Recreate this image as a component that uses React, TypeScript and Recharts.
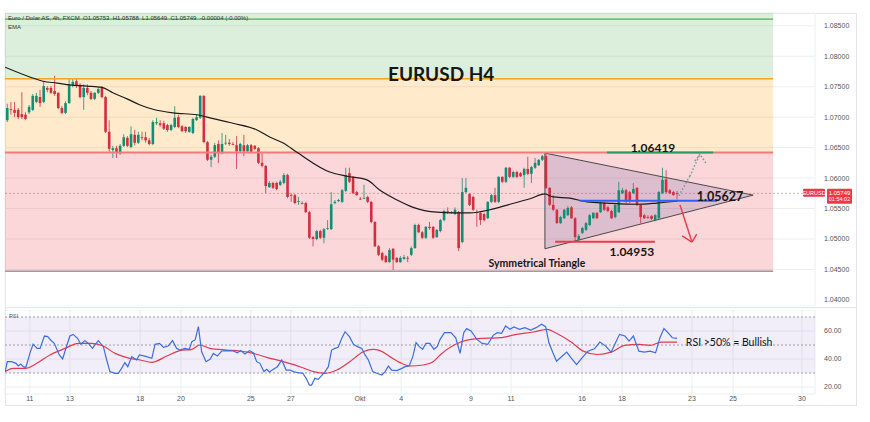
// EURUSD H4 — candlesticks with EMA, drawn zones, symmetrical triangle and RSI pane
import {
  ComposedChart,
  Bar,
  Line,
  XAxis,
  YAxis,
  CartesianGrid,
  ReferenceArea,
  ReferenceLine,
  ReferenceDot,
} from "recharts";

// ---- x axis: bar index, date labels ----
const X_MIN = -0.63;
const X_MAX = 221.9;
const ZONE_END = 210.4;
const dateTicks = [6.2, 17.2, 36.5, 47.7, 66.9, 77.9, 96.9, 108.2, 127.4, 138.4, 157.9, 168.9, 188.1, 199.4, 218.3];
const dateLabels = ["11", "13", "18", "20", "25", "27", "Okt", "4", "9", "11", "16", "18", "23", "25", "30"];

// ---- price axis ----
const P_MIN = 1.039;
const P_MAX = 1.0871;
const priceTicks = [1.04, 1.045, 1.05, 1.055, 1.06, 1.065, 1.07, 1.075, 1.08, 1.085];

// ---- 4h candles [open, high, low, close] ----
const candles: number[][] = [
  [1.0695, 1.0722, 1.0692, 1.0715], [1.0713, 1.0725, 1.0704, 1.0712], [1.0712, 1.0725, 1.07, 1.0707],
  [1.0712, 1.0715, 1.0697, 1.07], [1.0705, 1.0741, 1.0697, 1.07], [1.0704, 1.0708, 1.0695, 1.0697],
  [1.0708, 1.072, 1.0705, 1.0717], [1.0712, 1.0738, 1.071, 1.0735], [1.0725, 1.074, 1.0723, 1.0735],
  [1.0733, 1.0745, 1.0717, 1.0723], [1.0725, 1.0758, 1.0723, 1.0751], [1.0748, 1.0751, 1.0741, 1.0745],
  [1.0748, 1.0751, 1.0738, 1.074], [1.0743, 1.0768, 1.0735, 1.0738], [1.074, 1.0741, 1.0713, 1.0715],
  [1.0715, 1.0718, 1.0705, 1.0707], [1.0707, 1.0726, 1.0705, 1.0723], [1.0723, 1.0763, 1.0722, 1.0753],
  [1.0753, 1.0763, 1.0749, 1.0758], [1.0759, 1.0763, 1.0748, 1.0751], [1.0753, 1.0756, 1.0731, 1.0733],
  [1.0733, 1.0754, 1.0712, 1.0748], [1.0748, 1.0754, 1.0736, 1.074], [1.074, 1.0743, 1.0728, 1.073],
  [1.073, 1.0741, 1.0728, 1.074], [1.074, 1.0749, 1.0738, 1.0746], [1.0748, 1.0751, 1.0731, 1.0733],
  [1.0733, 1.0735, 1.0674, 1.0676], [1.0676, 1.0695, 1.0643, 1.0648], [1.0646, 1.0653, 1.0633, 1.0649],
  [1.0649, 1.0653, 1.0633, 1.0643], [1.0641, 1.0656, 1.0638, 1.0653], [1.0653, 1.0672, 1.0651, 1.0667],
  [1.0666, 1.0669, 1.0651, 1.0653], [1.0651, 1.0685, 1.0649, 1.0672], [1.0671, 1.0679, 1.0654, 1.0658],
  [1.0658, 1.0676, 1.0656, 1.0671], [1.0667, 1.0676, 1.0662, 1.0666], [1.0667, 1.0676, 1.0658, 1.0662],
  [1.0662, 1.0666, 1.0654, 1.0656], [1.0656, 1.0695, 1.0654, 1.0692], [1.069, 1.0699, 1.0687, 1.0692],
  [1.069, 1.0695, 1.0684, 1.0687], [1.069, 1.0694, 1.0679, 1.0681], [1.0687, 1.0689, 1.0676, 1.0679],
  [1.0679, 1.0689, 1.0677, 1.0687], [1.0684, 1.0718, 1.0682, 1.0699], [1.07, 1.0704, 1.0682, 1.0684],
  [1.0685, 1.0687, 1.0676, 1.0677], [1.0684, 1.0685, 1.0674, 1.0677], [1.0676, 1.0685, 1.0674, 1.0684],
  [1.0674, 1.0699, 1.0672, 1.0697], [1.0695, 1.0705, 1.0694, 1.07], [1.0699, 1.0736, 1.0697, 1.0735],
  [1.0735, 1.0736, 1.0658, 1.0659], [1.0659, 1.0661, 1.0628, 1.063], [1.063, 1.0638, 1.0618, 1.0635],
  [1.0635, 1.0658, 1.0633, 1.0654], [1.0656, 1.0662, 1.0625, 1.0641], [1.0641, 1.0674, 1.0639, 1.0656],
  [1.0657, 1.0671, 1.0654, 1.0658], [1.0658, 1.0664, 1.0653, 1.0656], [1.0656, 1.0659, 1.0654, 1.0655],
  [1.0654, 1.0669, 1.0615, 1.0644], [1.0644, 1.0658, 1.0643, 1.0656], [1.0654, 1.0671, 1.0636, 1.0644],
  [1.0644, 1.0656, 1.0643, 1.0654], [1.0654, 1.0656, 1.0641, 1.0643], [1.0653, 1.0654, 1.0646, 1.0648],
  [1.0649, 1.0651, 1.0623, 1.0625], [1.0625, 1.0643, 1.0618, 1.062], [1.062, 1.0621, 1.0575, 1.0587],
  [1.0585, 1.0595, 1.0584, 1.0592], [1.0592, 1.0594, 1.0582, 1.0584], [1.0592, 1.0594, 1.058, 1.0582],
  [1.0589, 1.0597, 1.0587, 1.0594], [1.0592, 1.0608, 1.059, 1.0605], [1.0605, 1.0607, 1.0567, 1.0569],
  [1.0572, 1.0575, 1.0561, 1.0571], [1.0572, 1.0574, 1.0557, 1.0559], [1.0561, 1.0569, 1.0556, 1.0562],
  [1.0559, 1.0562, 1.0557, 1.0558], [1.0559, 1.0561, 1.0543, 1.0544], [1.0544, 1.0546, 1.05, 1.0502],
  [1.0503, 1.0505, 1.0488, 1.05], [1.05, 1.0515, 1.0498, 1.0513], [1.0513, 1.0515, 1.05, 1.0502],
  [1.0502, 1.0518, 1.0493, 1.0516], [1.0517, 1.0531, 1.0515, 1.0518], [1.0516, 1.0577, 1.0515, 1.0557],
  [1.0559, 1.0564, 1.0557, 1.0561], [1.0562, 1.0566, 1.0561, 1.0564], [1.0561, 1.0582, 1.0559, 1.058],
  [1.0579, 1.0617, 1.0577, 1.0605], [1.0608, 1.0617, 1.0592, 1.0594], [1.0602, 1.0603, 1.0574, 1.0575],
  [1.0577, 1.0579, 1.0571, 1.0572], [1.0566, 1.0569, 1.0564, 1.0565], [1.0566, 1.0589, 1.0566, 1.0567],
  [1.0569, 1.0571, 1.0559, 1.0561], [1.0561, 1.0562, 1.0526, 1.0528], [1.0528, 1.0529, 1.0487, 1.0488],
  [1.0488, 1.049, 1.0472, 1.0474], [1.0477, 1.0479, 1.0464, 1.0466], [1.0472, 1.0474, 1.0461, 1.0462],
  [1.0462, 1.0485, 1.0461, 1.0482], [1.0484, 1.0485, 1.0449, 1.0466], [1.0469, 1.047, 1.0461, 1.0462],
  [1.0462, 1.0472, 1.0461, 1.0469], [1.0467, 1.0474, 1.0466, 1.047], [1.0469, 1.0472, 1.0462, 1.0468],
  [1.0474, 1.0488, 1.0472, 1.0485], [1.0485, 1.0525, 1.0484, 1.0523], [1.0523, 1.0525, 1.051, 1.0511],
  [1.0511, 1.0513, 1.05, 1.0502], [1.0502, 1.0521, 1.05, 1.052], [1.052, 1.0528, 1.0515, 1.0518],
  [1.052, 1.0521, 1.05, 1.0502], [1.0503, 1.0516, 1.0502, 1.0515], [1.0513, 1.0533, 1.0511, 1.0531],
  [1.0531, 1.0548, 1.0529, 1.0546], [1.0546, 1.0552, 1.0541, 1.0545], [1.0543, 1.0546, 1.0541, 1.0544],
  [1.0541, 1.0552, 1.0539, 1.0548], [1.0544, 1.0546, 1.048, 1.0485], [1.0495, 1.06, 1.0493, 1.0577],
  [1.0577, 1.06, 1.0575, 1.0584], [1.0574, 1.0575, 1.0554, 1.0556], [1.0569, 1.0571, 1.0546, 1.0548],
  [1.0544, 1.0548, 1.052, 1.0543], [1.0543, 1.0544, 1.0523, 1.0531], [1.0541, 1.0543, 1.0529, 1.0531],
  [1.0534, 1.0562, 1.0533, 1.0561], [1.0561, 1.0574, 1.0559, 1.0572], [1.0572, 1.0584, 1.0559, 1.0561],
  [1.0561, 1.0603, 1.0559, 1.0602], [1.0602, 1.0603, 1.0592, 1.0594], [1.0594, 1.0618, 1.0592, 1.0617],
  [1.0617, 1.0618, 1.06, 1.0602], [1.0602, 1.0612, 1.06, 1.061], [1.061, 1.0612, 1.06, 1.0602],
  [1.0608, 1.061, 1.0602, 1.0603], [1.0605, 1.0617, 1.0584, 1.0615], [1.0615, 1.0635, 1.0605, 1.0607],
  [1.0607, 1.062, 1.0592, 1.0618], [1.0617, 1.0633, 1.0615, 1.0625], [1.0621, 1.0631, 1.062, 1.063],
  [1.063, 1.0638, 1.0628, 1.0636], [1.0636, 1.0641, 1.0582, 1.0584], [1.0584, 1.0585, 1.0554, 1.0556],
  [1.0556, 1.0572, 1.0546, 1.0548], [1.0548, 1.0549, 1.0525, 1.0526], [1.0526, 1.0538, 1.0525, 1.0536],
  [1.0534, 1.0549, 1.0533, 1.0548], [1.0539, 1.0554, 1.0538, 1.0551], [1.0552, 1.0554, 1.0533, 1.0534],
  [1.0534, 1.0536, 1.0495, 1.0503], [1.0498, 1.0508, 1.0497, 1.0505], [1.051, 1.052, 1.0508, 1.0518],
  [1.0515, 1.0528, 1.0513, 1.0526], [1.0523, 1.0541, 1.0521, 1.0539], [1.0534, 1.0544, 1.0533, 1.0543],
  [1.0543, 1.0544, 1.0533, 1.0534], [1.0544, 1.0561, 1.0543, 1.0559], [1.0559, 1.0561, 1.0546, 1.0548],
  [1.0552, 1.0554, 1.0544, 1.0546], [1.0546, 1.0548, 1.0533, 1.0534], [1.0536, 1.0557, 1.0534, 1.0556],
  [1.0544, 1.0594, 1.0543, 1.058], [1.0575, 1.0584, 1.0574, 1.058], [1.058, 1.0582, 1.0559, 1.0561],
  [1.0577, 1.0579, 1.0559, 1.0564], [1.0575, 1.0592, 1.0574, 1.0582], [1.0584, 1.0585, 1.0554, 1.0556],
  [1.0556, 1.0557, 1.0526, 1.0536], [1.0539, 1.0541, 1.0533, 1.0534], [1.0536, 1.0539, 1.0533, 1.0535],
  [1.0538, 1.0539, 1.0531, 1.0533], [1.0531, 1.0541, 1.0529, 1.0539], [1.0534, 1.0579, 1.0533, 1.0577],
  [1.0575, 1.0617, 1.0574, 1.0597], [1.0598, 1.0613, 1.0575, 1.0577], [1.058, 1.0582, 1.0574, 1.0575],
  [1.0577, 1.0579, 1.0571, 1.0572], [1.05753, 1.05788, 1.05649, 1.05749],
];

// ---- EMA [bar index, value] ----
const emaPoints: number[][] = [
  [-0.6, 1.0782], [6.2, 1.0766], [9.8, 1.0759], [13.7, 1.0756], [17.2, 1.0753], [21.9, 1.0751],
  [26.0, 1.0749], [29.0, 1.074], [32.9, 1.073], [36.5, 1.072], [40.0, 1.0713], [45.5, 1.0707],
  [52.1, 1.0704], [54.9, 1.07], [62.0, 1.069], [68.6, 1.0679], [72.2, 1.0667], [75.7, 1.0658],
  [79.9, 1.0641], [88.6, 1.061], [93.3, 1.0603], [98.8, 1.0597], [102.4, 1.058], [107.1, 1.0564],
  [111.5, 1.0552], [118.0, 1.0544], [122.4, 1.0543], [127.1, 1.0543], [132.6, 1.0548], [138.1, 1.0557],
  [143.6, 1.0566], [147.7, 1.0574], [149.9, 1.0569], [154.6, 1.0567], [159.3, 1.0561], [164.8, 1.0559],
  [173.0, 1.0557], [178.5, 1.0559], [184.0, 1.0562],
];

// ---- RSI [bar index, value] ----
const rsiPoints: number[][] = [
  [-0.6, 31], [0, 38.1], [1.2, 38.1], [2.4, 36.9], [3.0, 35], [3.7, 36.4], [4.4, 34.5], [5.1, 34],
  [6.2, 44], [7.1, 50.7], [8.2, 47.6], [9.0, 47.6], [10.2, 56.4], [11.1, 56], [11.9, 53.6], [12.9, 51.2],
  [14.3, 42.9], [15.2, 40], [16.3, 49.3], [17.2, 56.4], [18.1, 57.6], [19.3, 54.8], [20.2, 50.5],
  [21.3, 53.1], [22.3, 51.2], [23.4, 47.6], [25.0, 53.1], [26.4, 48.8], [27.3, 39.3], [28.2, 31],
  [29.6, 29.8], [30.5, 29.8], [31.4, 33.3], [32.3, 37.4], [33.1, 34.5], [34.2, 41.7], [35.5, 39.3],
  [36.3, 42.9], [37.8, 42.1], [39.7, 40.5], [40.6, 50.5], [41.8, 51.2], [42.9, 48.3], [44.2, 49.3],
  [45.4, 53.1], [46.5, 47.6], [47.4, 46.4], [48.8, 47.6], [50.0, 46.9], [50.7, 52.4], [51.6, 53.6],
  [52.5, 63.1], [53.4, 45.2], [54.6, 38.1], [55.7, 39.8], [56.6, 44], [57.7, 42.1], [58.9, 45.7],
  [60.3, 46], [62.1, 45.7], [63.2, 44.5], [64.1, 46], [65.3, 43.6], [66.5, 46], [67.6, 44.5],
  [68.5, 38.1], [69.4, 36.9], [70.5, 31], [71.3, 32.6], [72.0, 30.7], [73.1, 32.6], [74.2, 34.5],
  [75.4, 39.3], [76.6, 32.1], [77.7, 32.1], [78.6, 31], [79.9, 30.2], [81.2, 29.8], [82.1, 26.2],
  [83.0, 21.4], [83.6, 21.4], [84.5, 26.2], [85.4, 25.5], [86.1, 27.4], [87.3, 31], [88.2, 34.5],
  [89.1, 46.4], [90.0, 47.6], [90.9, 48.3], [91.9, 54.8], [92.8, 59.5], [94.0, 56], [95.1, 50.5],
  [96.2, 48.8], [97.4, 47.6], [98.3, 42.9], [99.2, 39.3], [100.4, 31], [101.5, 29.8], [102.9, 28.6],
  [103.8, 31], [104.7, 35], [105.6, 32.1], [107.0, 31.7], [108.4, 33.3], [109.3, 34.5], [110.4, 35],
  [111.4, 41.7], [112.3, 51.7], [113.2, 48.8], [114.1, 46.9], [115.0, 51.2], [116.1, 51.2],
  [117.2, 46.9], [118.1, 48.8], [118.9, 54], [120.1, 58.8], [121.9, 58.8], [123.2, 55.2], [124.4, 44],
  [125.4, 58.8], [126.2, 61.7], [127.4, 60], [129.0, 54], [130.5, 51.1], [132.0, 50.4], [133.5, 56.9],
  [134.6, 58.8], [135.8, 58.3], [136.9, 63.6], [138.1, 61.2], [139.2, 62.9], [140.7, 61.2],
  [142.2, 62.4], [143.8, 60.7], [145.3, 62.4], [146.8, 64.8], [147.9, 63.1], [148.8, 51.6],
  [149.9, 44.4], [150.9, 38.4], [152.4, 42], [153.7, 44.9], [154.9, 40.8], [156.4, 36], [157.9, 40.8],
  [159.5, 45.6], [161.3, 47.3], [162.8, 52.1], [164.4, 49.2], [165.9, 44.9], [167.1, 51.6],
  [168.2, 57.6], [169.7, 56.4], [170.8, 52.8], [172.0, 56.4], [173.5, 45.6], [175.0, 44.9],
  [176.6, 45.6], [178.1, 44.4], [179.3, 55.2], [180.4, 61.7], [181.5, 58.8], [182.7, 55.2], [184.0, 54.7],
];

// ---- RSI moving average [bar index, value] ----
const rsiMaPoints: number[][] = [
  [-0.6, 31], [1.6, 33.3], [4.9, 33.3], [8.1, 36.9], [11.7, 42.9], [15.9, 47.6], [19.5, 51.2],
  [23.2, 51.2], [26.4, 49.3], [29.6, 44], [33.7, 40.5], [36.5, 39.3], [39.7, 37.6], [43.8, 42.1],
  [47.4, 46], [50.7, 46.9], [52.9, 50], [55.7, 47.6], [60.3, 46.4], [63.9, 45.7], [67.6, 44],
  [71.3, 41.2], [75.8, 38.1], [80.4, 34.5], [84.1, 31], [87.3, 29.8], [90.5, 32.1], [94.1, 38.1],
  [97.8, 45.2], [100.5, 46.9], [102.4, 46], [105.1, 41.7], [107.9, 37.4], [110.6, 35], [114.3, 35.7],
  [117.0, 38.1], [118.9, 42.9], [124.6, 52.1], [129.3, 54.5], [135.4, 55.2], [139.9, 57.6],
  [144.5, 59.3], [148.3, 61.2], [150.6, 58.8], [155.2, 51.6], [158.2, 45.6], [162.1, 43.2],
  [165.9, 44.9], [169.7, 49.7], [173.5, 50.4], [176.6, 49.7], [179.6, 52.1], [184, 52.1],
];

// ---- drawn levels / pattern ----
const zoneGreenLow = 1.0763;
const zoneOrangeLow = 1.06419;
const zonePinkLow = 1.0447;
const topLine = 1.0861;
const triangle = { x1: 147.7, x2: 204.9, top: 1.0641, bottom: 1.0484, apex: 1.0572 };
const lastPrice = 1.05749;

const UP = "#0f8f73";
const DOWN = "#d12f3e";
const FONT = "Lato, 'Liberation Sans', sans-serif";

const candleData = candles.map(([o, h, l, c], i) => ({ i, o, h, l, c, range: [l, h] }));
const toXY = (pts: number[][]) => pts.map(([i, v]) => ({ i, v }));

function Candle(props: any) {
  const { x, y, width, height, payload } = props;
  if (payload == null || x == null) return null;
  const { o, h, l, c } = payload;
  const color = c >= o ? UP : DOWN;
  const top = Math.min(y, y + height);
  const hh = Math.abs(height);
  const span = h - l || 1e-9;
  const yOf = (p: number) => top + ((h - p) / span) * hh;
  const cx = x + width / 2;
  const bTop = yOf(Math.max(o, c));
  const bBot = yOf(Math.min(o, c));
  return (
    <g>
      <line x1={cx} x2={cx} y1={top} y2={top + hh} stroke={color} strokeWidth={0.8} />
      <rect x={cx - 1.3} y={bTop} width={2.6} height={Math.max(bBot - bTop, 0.8)} fill={color} />
    </g>
  );
}

function triShape(p: any) {
  const { x, y, width, height } = p;
  const apexY = y + (height * (triangle.top - triangle.apex)) / (triangle.top - triangle.bottom);
  return (
    <polygon
      points={`${x},${y} ${x + width},${apexY} ${x},${y + height}`}
      fill="rgba(100,90,160,0.2)"
      stroke="#4a4a4a"
      strokeWidth={1}
    />
  );
}

function note(text: string, size: number, weight = 700, color = "#151515") {
  return (p: any) => {
    const vb = p.viewBox || {};
    return (
      <text
        x={vb.x + (vb.width || 0) / 2}
        y={vb.y + (vb.height || 0) / 2}
        textAnchor="middle"
        dominantBaseline="central"
        fontSize={size}
        fontWeight={weight}
        fill={color}
        fontFamily={FONT}
      >
        {text}
      </text>
    );
  };
}

function priceTag(p: any) {
  const vb = p.viewBox || {};
  const right = vb.x + vb.width;
  const cy = vb.y;
  const f = "'Liberation Sans', sans-serif";
  return (
    <g>
      <rect x={right - 12} y={cy - 4.5} width={22} height={8} fill="#f23645" rx={1} />
      <text x={right - 1} y={cy - 0.3} textAnchor="middle" dominantBaseline="central" fontSize={5.5} fill="#fff" fontFamily={f}>
        EURUSD
      </text>
      <rect x={right + 12} y={cy - 4.5} width={25} height={15} fill="#f23645" rx={1} />
      <text x={right + 24.5} y={cy - 0.5} textAnchor="middle" dominantBaseline="central" fontSize={6} fill="#fff" fontFamily={f}>
        {lastPrice.toFixed(5)}
      </text>
      <text x={right + 24.5} y={cy + 6} textAnchor="middle" dominantBaseline="central" fontSize={5.5} fill="#fff" fontFamily={f}>
        01:54:02
      </text>
    </g>
  );
}

const seg = (x1: number, y1: number, x2: number, y2: number) => [
  { x: x1, y: y1 },
  { x: x2, y: y2 },
];

const axisTick = { fontSize: 7, fill: "#555", fontFamily: "'Liberation Sans', sans-serif" };
const dateFmt = (v: number) => dateLabels[dateTicks.indexOf(v)] ?? "";

export default function App() {
  return (
    <div style={{ position: "fixed", left: 0, top: 0, width: 870, height: 422, background: "#fff", overflow: "hidden" }}>
      {/* frame */}
      <div style={{ position: "absolute", left: 5, top: 13, width: 850, height: 391, border: "1px solid #e3e5ea" }} />
      <div style={{ position: "absolute", left: 5, top: 307, width: 851, height: 1, background: "#e3e5ea" }} />

      <div style={{ position: "absolute", left: 0, top: 0 }}>
        <ComposedChart width={870} height={306} data={candleData} margin={{ top: 13, right: 14, bottom: 0, left: 5 }}>
          <CartesianGrid stroke="#eceef2" />
          <XAxis
            dataKey="i"
            type="number"
            domain={[X_MIN, X_MAX]}
            allowDataOverflow
            ticks={dateTicks}
            tick={false}
            axisLine={false}
            tickLine={false}
            height={0}
          />
          <YAxis
            orientation="right"
            type="number"
            domain={[P_MIN, P_MAX]}
            allowDataOverflow
            ticks={priceTicks}
            tickFormatter={(v: number) => v.toFixed(5)}
            width={41}
            axisLine={false}
            tickLine={false}
            tickSize={0}
            tickMargin={9}
            tick={axisTick}
          />

          {/* zones */}
          <ReferenceArea x1={X_MIN} x2={ZONE_END} y1={zoneGreenLow} y2={P_MAX} fill="rgba(76,175,80,0.2)" fillOpacity={1} stroke="none" ifOverflow="hidden" />
          <ReferenceArea x1={X_MIN} x2={ZONE_END} y1={zoneOrangeLow} y2={zoneGreenLow} fill="rgba(255,152,0,0.2)" fillOpacity={1} stroke="none" />
          <ReferenceArea x1={X_MIN} x2={ZONE_END} y1={zonePinkLow} y2={zoneOrangeLow} fill="rgba(242,54,69,0.2)" fillOpacity={1} stroke="none" />
          <ReferenceLine segment={seg(X_MIN, topLine, ZONE_END, topLine)} stroke="#4caf50" strokeWidth={1.2} />
          <ReferenceLine segment={seg(X_MIN, zoneGreenLow, ZONE_END, zoneGreenLow)} stroke="#f5a623" strokeWidth={1.5} />
          <ReferenceLine segment={seg(X_MIN, zoneOrangeLow, ZONE_END, zoneOrangeLow)} stroke="#f27a7a" strokeWidth={2} />
          <ReferenceLine segment={seg(X_MIN, zonePinkLow, ZONE_END, zonePinkLow)} stroke="#a09aa3" strokeWidth={1.5} />

          {/* symmetrical triangle */}
          <ReferenceArea x1={triangle.x1} x2={triangle.x2} y1={triangle.bottom} y2={triangle.top} shape={triShape} />

          {/* current price */}
          <ReferenceLine y={lastPrice} stroke="rgba(242,54,69,0.45)" strokeDasharray="2 2" label={priceTag} />

          <Bar dataKey="range" shape={(p: any) => <Candle {...p} />} barSize={3} isAnimationActive={false} />
          <Line data={toXY(emaPoints)} dataKey="v" type="monotone" stroke="#1b1b1b" strokeWidth={1.2} dot={false} isAnimationActive={false} />

          {/* key levels */}
          <ReferenceLine segment={seg(164.8, 1.06419, 193.9, 1.06419)} stroke="#2e9a6a" strokeWidth={2} />
          <ReferenceLine segment={seg(157.3, 1.05627, 195.0, 1.05627)} stroke="#2962ff" strokeWidth={2} />
          <ReferenceLine segment={seg(150.5, 1.04953, 177.9, 1.04953)} stroke="#ec3b4b" strokeWidth={2} />

          {/* arrows */}
          <ReferenceLine segment={seg(184.8, 1.0556, 188.1, 1.0495)} stroke="#e8404c" strokeWidth={1.5} />
          <ReferenceLine segment={seg(185.4, 1.0505, 188.1, 1.0495)} stroke="#e8404c" strokeWidth={1.5} />
          <ReferenceLine segment={seg(189.4, 1.0508, 188.1, 1.0495)} stroke="#e8404c" strokeWidth={1.5} />
          <ReferenceLine segment={seg(184.5, 1.0571, 187.5, 1.0603)} stroke="#6a9f96" strokeWidth={1.5} strokeDasharray="1.5 2" />
          <ReferenceLine segment={seg(187.5, 1.0603, 190.3, 1.0639)} stroke="#6a9f96" strokeWidth={1.5} strokeDasharray="1.5 2" />
          <ReferenceLine segment={seg(188.9, 1.0628, 190.3, 1.0639)} stroke="#6a9f96" strokeWidth={1.5} strokeDasharray="1.5 2" />
          <ReferenceLine segment={seg(191.9, 1.0625, 190.3, 1.0639)} stroke="#6a9f96" strokeWidth={1.5} strokeDasharray="1.5 2" />

          {/* texts */}
          <ReferenceDot x={119.2} y={1.0771} r={0} fill="none" stroke="none" label={note("EURUSD H4", 19)} />
          <ReferenceDot x={177.4} y={1.0651} r={0} fill="none" stroke="none" label={note("1.06419", 12)} />
          <ReferenceDot x={195.8} y={1.0569} r={0} fill="none" stroke="none" label={note("1.05627", 12.5)} />
          <ReferenceDot x={171.6} y={1.0479} r={0} fill="none" stroke="none" label={note("1.04953", 12)} />
          <ReferenceDot x={145.5} y={1.0461} r={0} fill="none" stroke="none" label={note("Symmetrical Triangle", 10.5)} />
        </ComposedChart>
      </div>

      <div style={{ position: "absolute", left: 0, top: 310 }}>
        <ComposedChart width={870} height={96} margin={{ top: 0, right: 14, bottom: 0, left: 5 }}>
          <CartesianGrid stroke="#eceef2" />
          <XAxis
            dataKey="i"
            type="number"
            domain={[X_MIN, X_MAX]}
            allowDataOverflow
            ticks={dateTicks}
            interval={0}
            tickFormatter={dateFmt}
            height={12}
            axisLine={false}
            tickLine={false}
            tickSize={0}
            tickMargin={2}
            tick={axisTick}
          />
          <YAxis
            orientation="right"
            type="number"
            domain={[15, 75]}
            allowDataOverflow
            ticks={[20, 40, 60]}
            tickFormatter={(v: number) => v.toFixed(2)}
            width={41}
            axisLine={false}
            tickLine={false}
            tickSize={0}
            tickMargin={9}
            tick={axisTick}
          />
          <ReferenceArea y1={30} y2={70} fill="rgba(126,87,194,0.1)" fillOpacity={1} stroke="none" />
          <ReferenceLine y={70} stroke="#9a9ca6" strokeDasharray="2 2" />
          <ReferenceLine y={50} stroke="#9a9ca6" strokeDasharray="2 2" />
          <ReferenceLine y={30} stroke="#9a9ca6" strokeDasharray="2 2" />
          <Line data={toXY(rsiMaPoints)} dataKey="v" type="monotone" stroke="#e23a4c" strokeWidth={1.2} dot={false} isAnimationActive={false} />
          <Line data={toXY(rsiPoints)} dataKey="v" type="linear" stroke="#3b6ee6" strokeWidth={1.2} dot={false} isAnimationActive={false} />
          <ReferenceDot x={198.3} y={52.1} r={0} fill="none" stroke="none" label={note("RSI >50% = Bullish", 10.5, 400)} />
        </ComposedChart>
      </div>

      {/* pane captions */}
      <div style={{ position: "absolute", left: 8, top: 15, fontSize: 6, lineHeight: "7px", color: "#333", fontFamily: "'Liberation Sans', sans-serif", whiteSpace: "nowrap" }}>
        Euro / Dolar AS, 4h, FXCM&nbsp; O1.05753&nbsp; H1.05788&nbsp; L1.05649&nbsp; C1.05749&nbsp; -0.00004 (-0.00%)
      </div>
      <div style={{ position: "absolute", left: 8, top: 24, fontSize: 6, lineHeight: "7px", color: "#333", fontFamily: "'Liberation Sans', sans-serif" }}>
        EMA
      </div>
      <div style={{ position: "absolute", left: 9, top: 313, fontSize: 5.5, lineHeight: "6px", color: "#555", fontFamily: "'Liberation Sans', sans-serif" }}>
        RSI
      </div>
    </div>
  );
}
